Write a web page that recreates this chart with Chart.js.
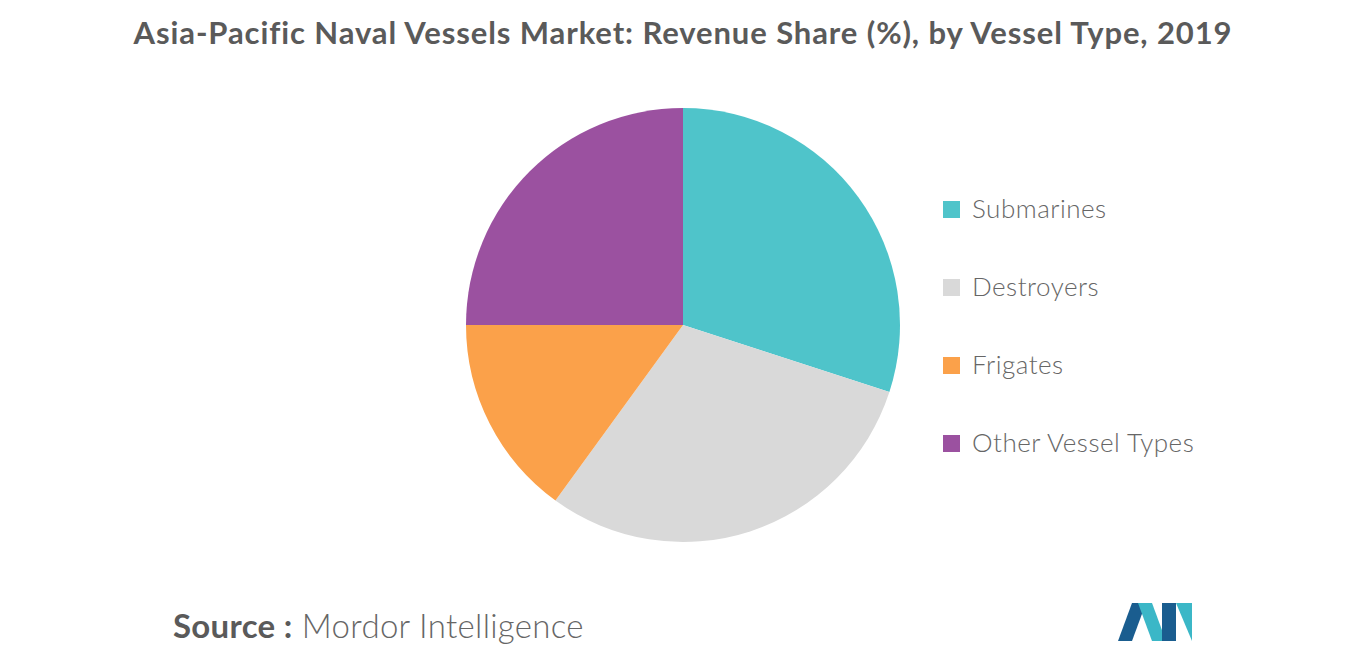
<!DOCTYPE html>
<html>
<head>
<meta charset="utf-8">
<script src="https://cdn.jsdelivr.net/npm/chart.js@4"></script>
<style>
body{margin:0;width:1366px;height:655px;background:#fff;font-family:Lato,sans-serif;position:relative;overflow:hidden}
#title{position:absolute;top:13px;left:0;width:1366px;text-align:center;font-size:31px;letter-spacing:0.9px;font-weight:bold;color:#5a5a5a}
#wrap{position:absolute;left:462px;top:104px;width:442px;height:442px}
#legend{position:absolute;left:943px;top:192px}
.item{height:78px;font-size:26px;font-weight:300;letter-spacing:0.5px;color:#666;display:flex;align-items:flex-start}
.box{width:17px;height:17px;margin-right:12px;margin-top:9px}
#source{position:absolute;left:173px;top:605px;font-size:33px;font-weight:300;letter-spacing:0.3px;color:#666}
#source b{color:#5a5a5a;font-weight:bold}
</style>
</head>
<body>
<div id="title">Asia-Pacific Naval Vessels Market: Revenue Share (%), by Vessel Type, 2019</div>
<div id="wrap"><canvas id="pie"></canvas></div>
<div id="legend"></div>
<div id="source"><b>Source :</b> Mordor Intelligence</div>
<svg style="position:absolute;left:1118px;top:603px" width="74" height="38">
<polygon points="0,38 14,0 28,0 14,38" fill="#1a5d8f"/>
<polygon points="20,0 34,0 48,38 34,38" fill="#3bb7c7"/>
<polygon points="44,0 58,0 58,38 44,38" fill="#1a5d8f"/>
<polygon points="58,0 74,0 74,38" fill="#3bb7c7"/>
</svg>
<script>
var labels = ["Submarines", "Destroyers", "Frigates", "Other Vessel Types"];
var shares = [30, 30, 15, 25];
var colors = ["#4fc4ca", "#d9d9d9", "#fba14a", "#9b51a0"];

var lg = document.getElementById("legend");
for (var i in labels) {
	lg.innerHTML += '<div class="item"><div class="box" style="background:' + colors[i] + '"></div>' + labels[i] + '</div>';
}

new Chart(document.getElementById("pie"), {
	type: 'pie',
	data: {
		labels: labels,
		datasets: [{ data: shares, backgroundColor: colors, borderWidth: 0 }]
	},
	options: {
		responsive: true,
		maintainAspectRatio: false,
		animation: false,
		layout: { padding: 4 },
		plugins: { legend: { display: false }, tooltip: { enabled: false } }
	}
});
</script>
</body>
</html>
